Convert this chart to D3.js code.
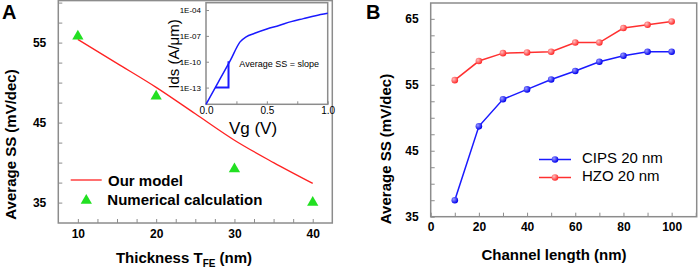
<!DOCTYPE html>
<html>
<head>
<meta charset="utf-8">
<script src="https://cdn.jsdelivr.net/npm/d3@7"></script>
<style>
  body { margin: 0; background: #fff; }
  svg { display: block; font-family: Arial, "Liberation Sans", sans-serif; }
</style>
</head>
<body>
<div id="chart"></div>
<script>
// panel A: SS vs ferroelectric thickness
const thicknessNum = [10, 20, 30, 40];
const numericalSS = [55.8, 48.3, 39.2, 35.0];
const thicknessModel = [10, 15, 20, 25, 30, 35, 40];
const modelSS = [55.4, 52.4, 49.4, 46.1, 42.8, 40.0, 37.4];

// inset: transfer curve
const vgValues = [0, 0.1, 0.2, 0.28, 0.33, 0.4, 0.5, 0.6, 0.7, 0.8, 0.9, 1.0];
const idsValues = [1.1e-15, 4.0e-13, 1.4e-10, 2.0e-8, 7.9e-8, 2.0e-7, 6.3e-7, 1.6e-6, 4.5e-6, 1.0e-5, 2.2e-5, 4.2e-5];
const slopeTriangle = [[0.075, 1e-13], [0.185, 1e-13], [0.185, 1.1e-10]];
const insetTicks = [1e-4, 1e-7, 1e-10, 1e-13];

// panel B: SS vs channel length
const channelLength = [10, 20, 30, 40, 50, 60, 70, 80, 90, 100];
const cipsSS = [37.5, 48.7, 52.8, 54.3, 55.8, 57.1, 58.5, 59.4, 60.0, 60.0];
const hzoSS = [55.7, 58.6, 59.8, 59.9, 60.0, 61.4, 61.4, 63.6, 64.1, 64.6];

const W = 699, H = 269;
const frameColor = "#8c8c8c";
const red = "#ff2222", blue = "#1a1aff", green = "#22e022";

const svg = d3.select("#chart").append("svg")
  .attr("width", W).attr("height", H);

const defs = svg.append("defs");
function ballGradient(id, light, dark) {
  const g = defs.append("radialGradient").attr("id", id)
    .attr("cx", "35%").attr("cy", "35%").attr("r", "65%");
  g.append("stop").attr("offset", "0%").attr("stop-color", light);
  g.append("stop").attr("offset", "100%").attr("stop-color", dark);
}
ballGradient("ballBlue", "#9a9aff", "#0000ee");
ballGradient("ballRed", "#ffc0c0", "#ff2a2a");

function styleAxis(g, size, weight) {
  g.select(".domain").remove();
  g.selectAll("line").attr("stroke", frameColor).attr("stroke-width", 1);
  g.selectAll("text")
    .attr("fill", "#000")
    .style("font-size", size + "px")
    .style("font-weight", weight)
    .style("font-family", 'Arial, "Liberation Sans", sans-serif');
}

// ---------- Panel A ----------
const ax = d3.scaleLinear().domain([7.5, 42.5]).range([58.3, 332.3]);
const ay = d3.scaleLinear().domain([32.45, 60.25]).range([223, 0.6]);

svg.append("rect")
  .attr("x", ax.range()[0]).attr("y", ay.range()[1])
  .attr("width", ax.range()[1] - ax.range()[0])
  .attr("height", ay.range()[0] - ay.range()[1])
  .attr("fill", "none").attr("stroke", frameColor).attr("stroke-width", 1.5);

svg.append("g")
  .attr("transform", "translate(" + ax.range()[0] + ",0)")
  .call(d3.axisLeft(ay).tickValues(d3.range(35, 60.1, 2.5)).tickSize(-4).tickPadding(12)
    .tickFormat(d => (d % 10 === 5 ? d : "")))
  .call(g => styleAxis(g, 12, "bold"));

svg.append("g")
  .attr("transform", "translate(0," + ay.range()[0] + ")")
  .call(d3.axisBottom(ax).tickValues(d3.range(10, 40.1, 2.5)).tickSize(-4).tickPadding(6)
    .tickFormat(d => (d % 10 === 0 ? d : "")))
  .call(g => styleAxis(g, 12, "bold"));

const modelLine = d3.line()
  .x((d, i) => ax(thicknessModel[i]))
  .y(d => ay(d))
  .curve(d3.curveMonotoneX);

svg.append("path").datum(modelSS)
  .attr("fill", "none").attr("stroke", red).attr("stroke-width", 1.3)
  .attr("d", modelLine);

const tri = d3.symbol().type(d3.symbolTriangle).size(55);
svg.selectAll(".numTri").data(numericalSS).enter().append("path")
  .attr("class", "numTri")
  .attr("transform", (d, i) => "translate(" + ax(thicknessNum[i]) + "," + ay(d) + ")")
  .attr("d", tri).attr("fill", green);

// legend A
svg.append("line").attr("x1", 70.7).attr("x2", 101.7).attr("y1", 180).attr("y2", 180)
  .attr("stroke", red).attr("stroke-width", 1.3);
svg.append("text").attr("x", 108).attr("y", 185.5)
  .style("font-size", "15px").style("font-weight", "bold").text("Our model");
svg.append("path").attr("transform", "translate(86.3,200.5)").attr("d", tri).attr("fill", green);
svg.append("text").attr("x", 107.3).attr("y", 205.2)
  .style("font-size", "15px").style("font-weight", "bold").text("Numerical calculation");

svg.append("text").attr("x", 2).attr("y", 18.5)
  .style("font-size", "20px").style("font-weight", "bold").text("A");

svg.append("text")
  .attr("transform", "translate(15.5,144.5) rotate(-90)")
  .attr("text-anchor", "middle")
  .style("font-size", "15px").style("font-weight", "bold")
  .text("Average SS (mV/dec)");

const xTitleA = svg.append("text").attr("x", 184).attr("y", 262.5)
  .attr("text-anchor", "middle")
  .style("font-size", "15px").style("font-weight", "bold");
xTitleA.append("tspan").text("Thickness T");
xTitleA.append("tspan").attr("dy", 4).style("font-size", "10px").text("FE");
xTitleA.append("tspan").attr("dy", -4).text(" (nm)");

// ---------- Inset ----------
const ix = d3.scaleLinear().domain([0, 1]).range([206, 327.7]);
const iy = d3.scaleLog().domain([Math.pow(10, -14.94), Math.pow(10, -3.15)]).range([104.3, 2.7]);

svg.append("rect")
  .attr("x", 206).attr("y", 2.7)
  .attr("width", 327.7 - 206).attr("height", 104.3 - 2.7)
  .attr("fill", "#fff").attr("stroke", frameColor).attr("stroke-width", 1.5);

svg.append("g")
  .attr("transform", "translate(206,0)")
  .call(d3.axisLeft(iy).tickValues(insetTicks).tickSize(-3).tickPadding(5)
    .tickFormat(d => "1E-" + String(Math.round(-Math.log10(d))).padStart(2, "0")))
  .call(g => styleAxis(g, 8, "normal"));

svg.append("g")
  .attr("transform", "translate(0,104.3)")
  .call(d3.axisBottom(ix).tickValues([0, 0.25, 0.5, 0.75, 1]).tickSize(-3).tickPadding(3)
    .tickFormat(d => (d === 0.25 || d === 0.75 ? "" : d3.format(".1f")(d))))
  .call(g => styleAxis(g, 10, "normal"));

const transferLine = d3.line()
  .x((d, i) => ix(vgValues[i]))
  .y(d => iy(d))
  .curve(d3.curveMonotoneX);

svg.append("path").datum(idsValues)
  .attr("fill", "none").attr("stroke", blue).attr("stroke-width", 1.5)
  .attr("d", transferLine);

svg.append("path").datum(slopeTriangle)
  .attr("fill", "none").attr("stroke", blue).attr("stroke-width", 2)
  .attr("d", d3.line().x(d => ix(d[0])).y(d => iy(d[1])));

svg.append("text").attr("x", 239.3).attr("y", 66.5)
  .style("font-size", "9px").text("Average SS = slope");

svg.append("text")
  .attr("transform", "translate(179,54) rotate(-90)")
  .attr("text-anchor", "middle")
  .style("font-size", "15px").text("Ids (A/\u03bcm)");

svg.append("text").attr("x", 253).attr("y", 133.5)
  .attr("text-anchor", "middle")
  .style("font-size", "17px").text("Vg (V)");

// ---------- Panel B ----------
const bx = d3.scaleLinear().domain([0, 110.4]).range([430.7, 696.7]);
const by = d3.scaleLinear().domain([35, 67.4]).range([216.7, 3]);

svg.append("rect")
  .attr("x", 430.7).attr("y", 3)
  .attr("width", 696.7 - 430.7).attr("height", 216.7 - 3)
  .attr("fill", "none").attr("stroke", frameColor).attr("stroke-width", 1.5);

svg.append("g")
  .attr("transform", "translate(430.7,0)")
  .call(d3.axisLeft(by).tickValues(d3.range(35, 67.4, 2.5)).tickSize(-4).tickPadding(12)
    .tickFormat(d => (d % 10 === 5 ? d : "")))
  .call(g => styleAxis(g, 12, "bold"));

svg.append("g")
  .attr("transform", "translate(0,216.7)")
  .call(d3.axisBottom(bx).tickValues(d3.range(0, 110.1, 10)).tickSize(-4).tickPadding(6)
    .tickFormat(d => (d % 20 === 0 ? d : "")))
  .call(g => styleAxis(g, 12, "bold"));

const seriesB = [
  { name: "CIPS 20 nm", values: cipsSS, color: blue, grad: "url(#ballBlue)", ly: 159.5 },
  { name: "HZO 20 nm", values: hzoSS, color: "#ff3030", grad: "url(#ballRed)", ly: 177.5 }
];

const lineB = d3.line()
  .x((d, i) => bx(channelLength[i]))
  .y(d => by(d));

seriesB.forEach(s => {
  svg.append("path").datum(s.values)
    .attr("fill", "none").attr("stroke", s.color).attr("stroke-width", 1.5)
    .attr("d", lineB);
  svg.append("g").selectAll("circle").data(s.values).enter().append("circle")
    .attr("cx", (d, i) => bx(channelLength[i]))
    .attr("cy", d => by(d))
    .attr("r", 3.3)
    .attr("fill", s.grad);

  svg.append("line").attr("x1", 539).attr("x2", 571).attr("y1", s.ly).attr("y2", s.ly)
    .attr("stroke", s.color).attr("stroke-width", 1.5);
  svg.append("circle").attr("cx", 555).attr("cy", s.ly).attr("r", 3.3).attr("fill", s.grad);
  svg.append("text").attr("x", 582).attr("y", s.ly + 3.5)
    .style("font-size", "15px").text(s.name);
});

svg.append("text").attr("x", 366).attr("y", 18.5)
  .style("font-size", "20px").style("font-weight", "bold").text("B");

svg.append("text")
  .attr("transform", "translate(391,149) rotate(-90)")
  .attr("text-anchor", "middle")
  .style("font-size", "15px").style("font-weight", "bold")
  .text("Average SS (mV/dec)");

svg.append("text").attr("x", 554).attr("y", 259.5)
  .attr("text-anchor", "middle")
  .style("font-size", "15px").style("font-weight", "bold")
  .text("Channel length (nm)");
</script>
</body>
</html>
